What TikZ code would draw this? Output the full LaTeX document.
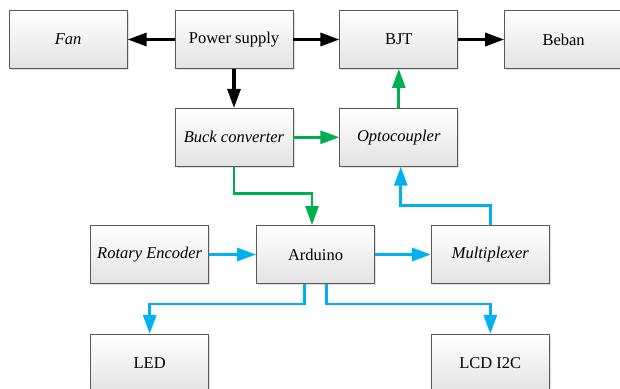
\documentclass[tikz,border=0pt]{standalone}
\usepackage{fontspec}
\setmainfont{Liberation Serif}
\usetikzlibrary{positioning,arrows.meta,shadows}
\definecolor{grn}{RGB}{0,176,80}
\definecolor{blu}{RGB}{0,176,240}
\tikzset{
  blok/.style={draw=black!65,line width=0.8pt,top color=white,bottom color=black!11,
    minimum width=118pt,minimum height=58pt,inner sep=2pt,
    font=\fontsize{16.5pt}{19pt}\selectfont,
    drop shadow={shadow xshift=1.5pt,shadow yshift=-1.5pt,opacity=0.25}},
  pan/.style={-{Triangle[length=19pt,width=13pt]},line width=#1},
  pan/.default=2.8pt,
}
\begin{document}
\begin{tikzpicture}[every path/.style={line join=miter}]
\useasboundingbox (0,0) rectangle (620pt,-388pt);
\node[blok] (ps) at (234pt,-39.5pt) {Power supply};
\node[blok,left=47pt of ps] (fan) {\textit{Fan}};
\node[blok,right=46pt of ps] (bjt) {BJT};
\node[blok,right=46pt of bjt] (beban) {Beban};
\node[blok,below=39pt of ps] (buck) {\textit{Buck converter}};
\node[blok,right=46pt of buck] (opto) {\textit{Optocoupler}};
\node[blok] (ard) at (315.5pt,-254.5pt) {Arduino};
\node[blok,left=47pt of ard] (enc) {\textit{Rotary Encoder}};
\node[blok,right=56pt of ard] (mux) {\textit{Multiplexer}};
\node[blok,below=50pt of enc] (led) {LED};
\node[blok,below=50pt of mux] (lcd) {LCD I2C};

\draw[pan=3.2pt] (ps) -- (fan);
\draw[pan=3.2pt] (ps) -- (bjt);
\draw[pan=3.2pt] (bjt) -- (beban);
\draw[pan=3.2pt] (ps) -- (buck);

\draw[pan,grn] (buck) -- (opto);
\draw[pan,grn] (opto) -- (bjt);
\draw[pan,grn] (buck.south) -- ++(0,-27pt) -| ([xshift=-3.5pt]ard.north);

\draw[pan,blu] (enc) -- (ard);
\draw[pan,blu] (ard) -- (mux);
\draw[pan,blu] (mux.north) -- ++(0,20pt) -| ([xshift=2pt]opto.south);
\draw[pan,blu] ([xshift=-11pt]ard.south) -- ++(0,-20pt) -| (led.north);
\draw[pan,blu] ([xshift=11pt]ard.south) -- ++(0,-20pt) -| (lcd.north);
\end{tikzpicture}
\end{document}
